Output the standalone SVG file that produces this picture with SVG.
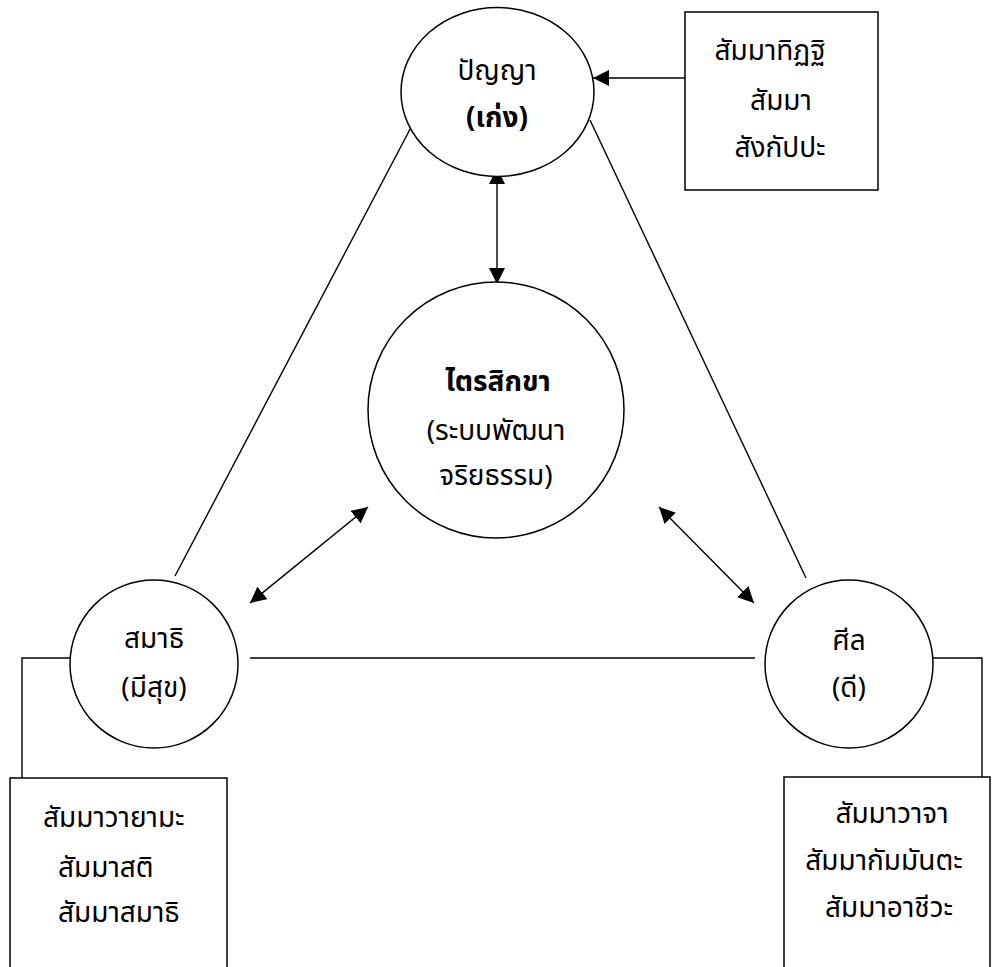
<svg xmlns="http://www.w3.org/2000/svg" width="992" height="967" viewBox="0 0 992 967">
<defs>
<style>
.shape{fill:#fff;stroke:#000;stroke-width:1.5}
.ln{fill:none;stroke:#000;stroke-width:1.4}
text{font-family:"Noto Sans Thai","Noto Sans","DejaVu Sans",sans-serif;font-size:28px;fill:#000}
.c{text-anchor:middle}
.b{font-weight:bold}
</style>
<marker id="ah" viewBox="0 0 10 10" refX="10" refY="5" markerWidth="16" markerHeight="16" markerUnits="userSpaceOnUse" orient="auto-start-reverse">
<path d="M0,0 L10,5 L0,10 z" fill="#000"/>
</marker>
</defs>
<rect width="992" height="967" fill="#fff"/>
<g id="connectors">
<line class="ln" x1="175" y1="576" x2="417" y2="116"/>
<line class="ln" x1="590" y1="120" x2="806" y2="578"/>
<line class="ln" x1="250" y1="658" x2="755" y2="658"/>
<polyline class="ln" points="70,658 22,658 22,778"/>
<polyline class="ln" points="933,658 982,658 982,778"/>
<line class="ln" x1="685" y1="78" x2="593" y2="78" marker-end="url(#ah)"/>
<line class="ln" x1="497" y1="168" x2="497" y2="284" marker-start="url(#ah)" marker-end="url(#ah)"/>
<line class="ln" x1="250" y1="603" x2="368" y2="507" marker-start="url(#ah)" marker-end="url(#ah)"/>
<line class="ln" x1="659" y1="507" x2="754" y2="603" marker-start="url(#ah)" marker-end="url(#ah)"/>
</g>
<g id="panya">
<ellipse class="shape" cx="497.5" cy="92" rx="96.5" ry="84.5"/>
<text class="c" x="497" y="80">ปัญญา</text>
<text class="c b" x="497" y="127">(เก่ง)</text>
</g>
<g id="box-top">
<rect class="shape" x="685" y="12" width="193" height="178"/>
<text class="c" x="770" y="60">สัมมาทิฏฐิ</text>
<text class="c" x="781" y="110">สัมมา</text>
<text class="c" x="780" y="157">สังกัปปะ</text>
</g>
<g id="trisikkha">
<ellipse class="shape" cx="496" cy="410" rx="128" ry="128"/>
<text class="c b" x="498" y="391">ไตรสิกขา</text>
<text class="c" x="496" y="440">(ระบบพัฒนา</text>
<text class="c" x="496" y="485">จริยธรรม)</text>
</g>
<g id="samathi">
<ellipse class="shape" cx="154" cy="664" rx="84" ry="84"/>
<text class="c" x="154" y="648">สมาธิ</text>
<text class="c" x="154" y="697">(มีสุข)</text>
</g>
<g id="sila">
<ellipse class="shape" cx="849" cy="664" rx="84" ry="84"/>
<text class="c" x="849" y="650">ศีล</text>
<text class="c" x="849" y="697">(ดี)</text>
</g>
<g id="box-left">
<rect class="shape" x="10" y="778" width="217" height="200"/>
<text x="43" y="827">สัมมาวายามะ</text>
<text x="58" y="877">สัมมาสติ</text>
<text x="58" y="922">สัมมาสมาธิ</text>
</g>
<g id="box-right">
<rect class="shape" x="784" y="777" width="206" height="200"/>
<text class="c" x="892" y="823">สัมมาวาจา</text>
<text class="c" x="884" y="870">สัมมากัมมันตะ</text>
<text class="c" x="889" y="917">สัมมาอาชีวะ</text>
</g>
</svg>
